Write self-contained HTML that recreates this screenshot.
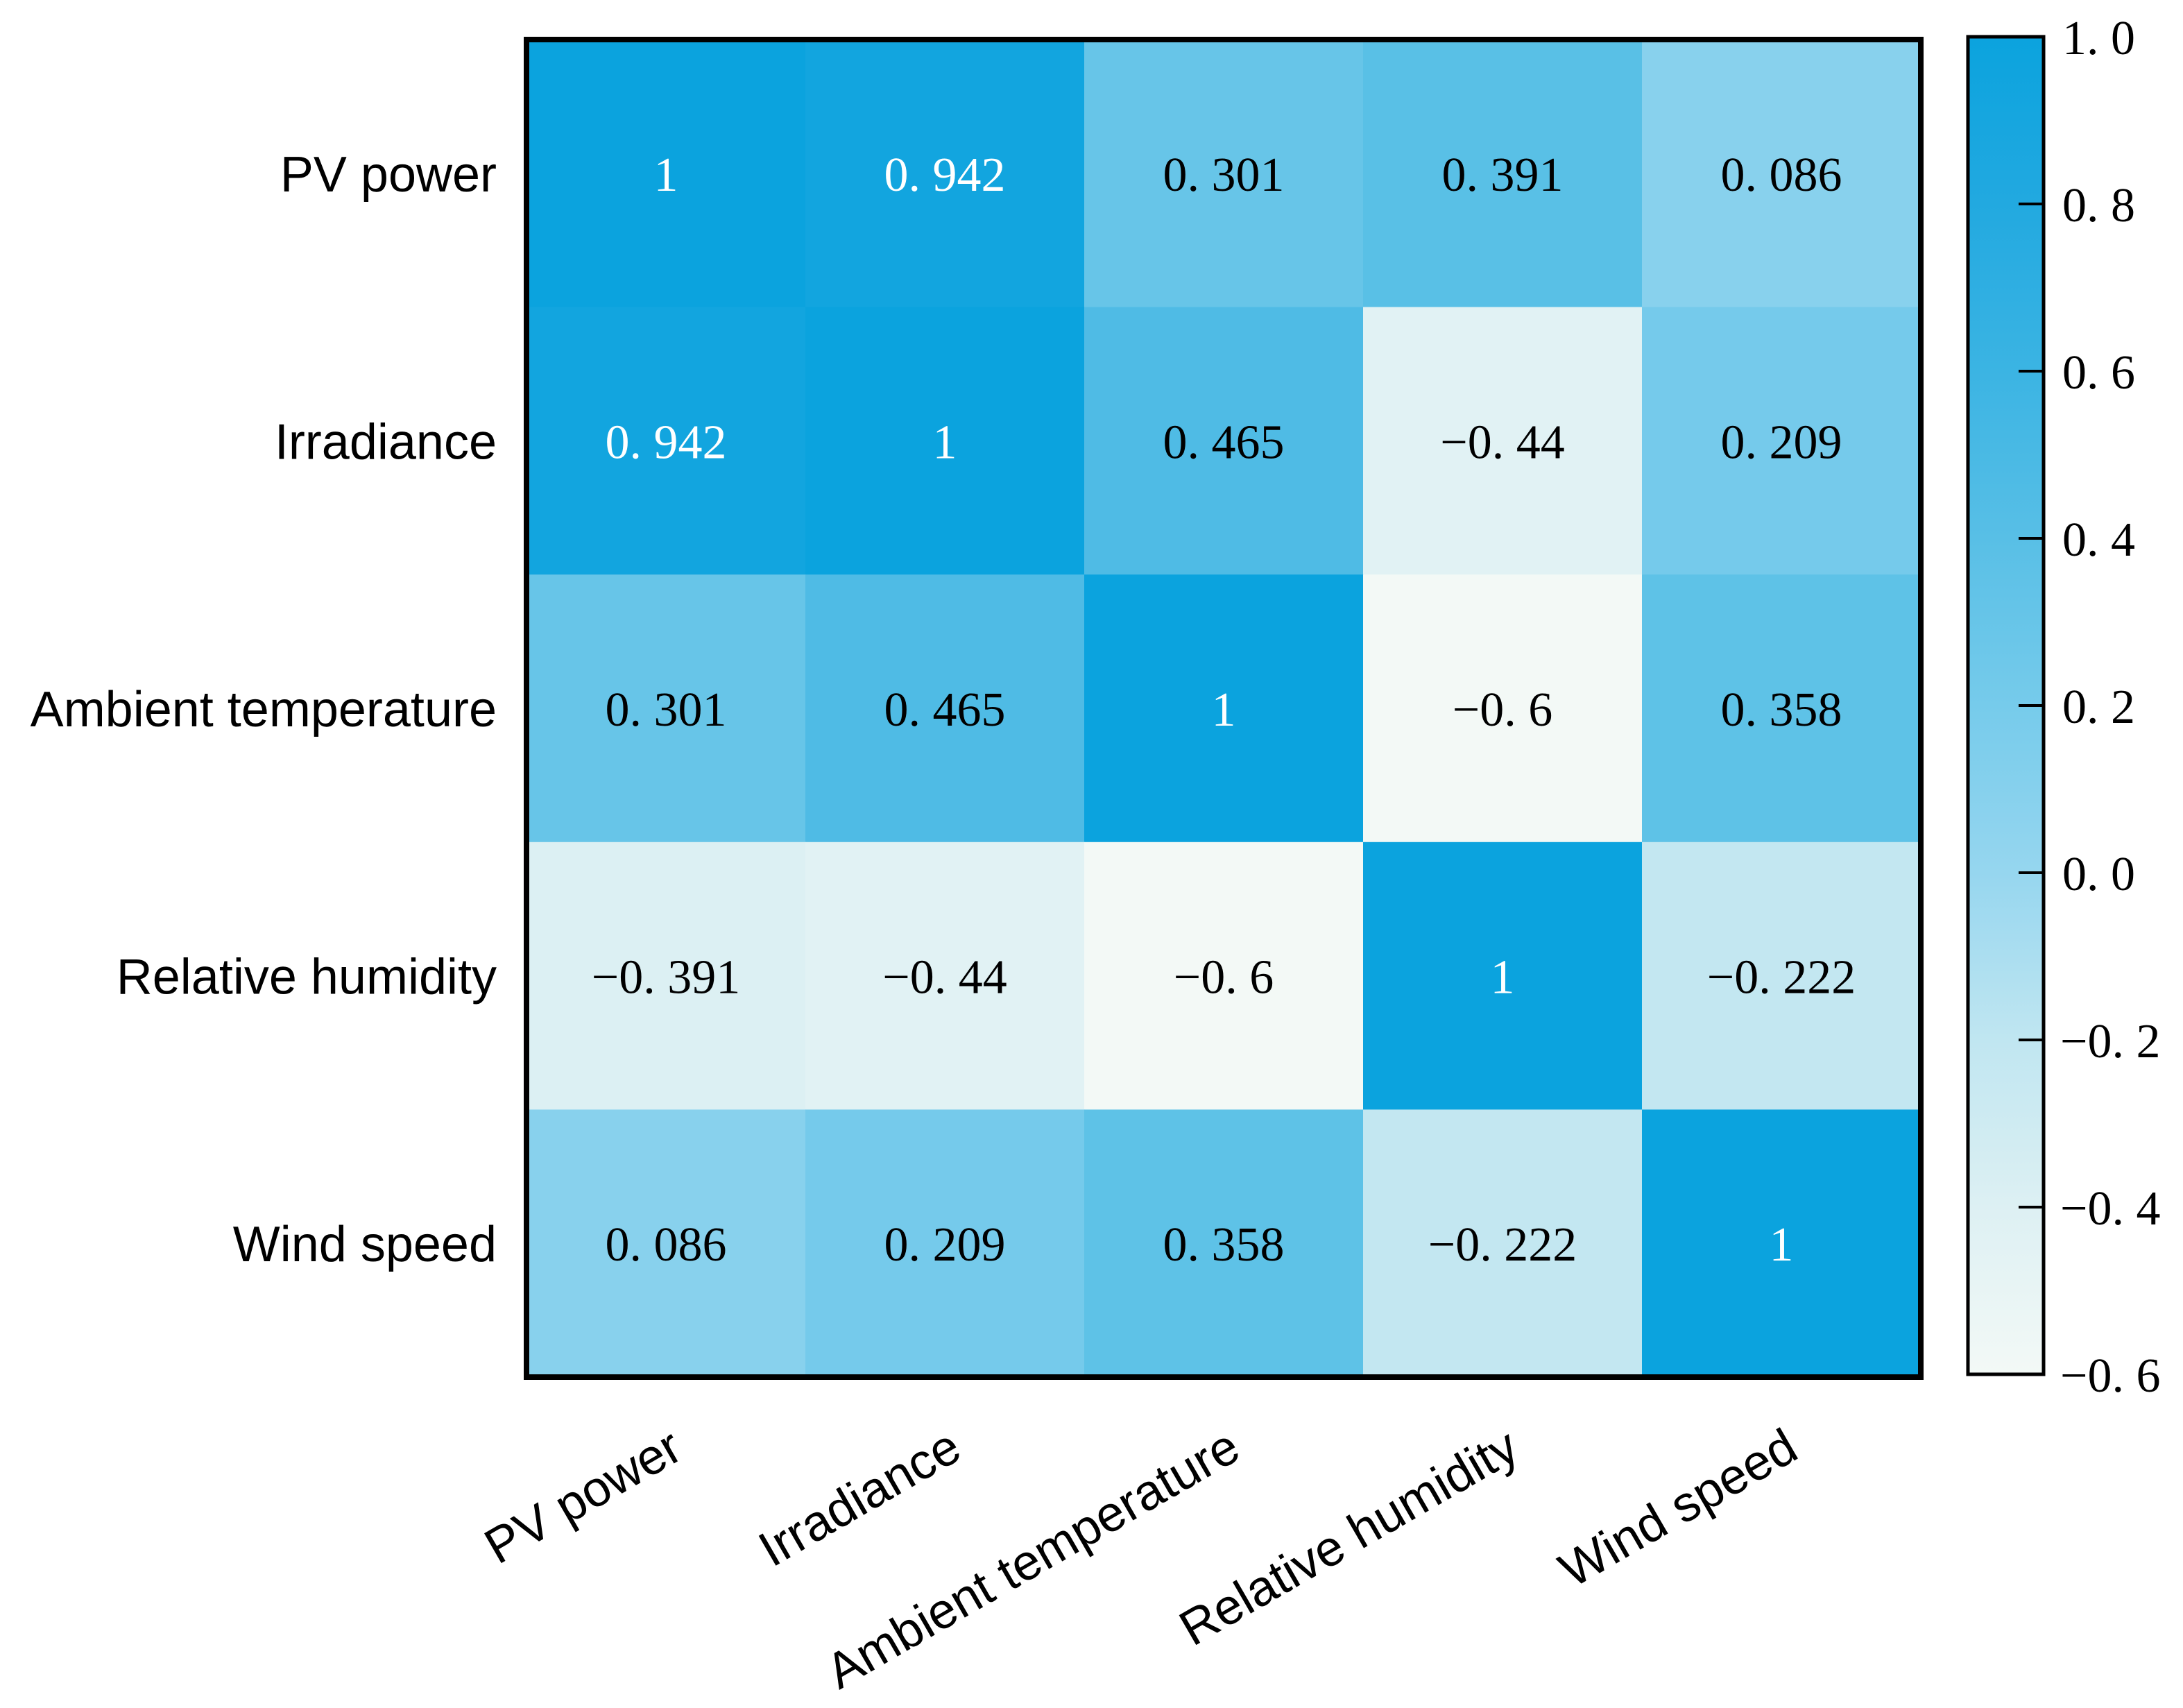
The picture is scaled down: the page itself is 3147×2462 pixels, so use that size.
<!DOCTYPE html>
<html><head><meta charset="utf-8"><style>
html,body{margin:0;padding:0;background:#fff;}
svg{display:block;}
</style></head>
<body>
<svg id="chart" xmlns="http://www.w3.org/2000/svg" width="3147" height="2462" viewBox="0 0 3147 2462">
<rect width="3147" height="2462" fill="#fff"/>
<defs><linearGradient id="cbg" x1="0" y1="1" x2="0" y2="0"></linearGradient></defs>
<g id="cells"></g>
<g id="ylabels"></g>
<g id="xlabels"></g>
<rect x="759" y="57" width="2010" height="1928" fill="none" stroke="#000" stroke-width="8"/>
<g id="cbar"></g>
</svg>
<script>
const labels = ["PV power","Irradiance","Ambient temperature","Relative humidity","Wind speed"];
const row0 = [1, 0.942, 0.301, 0.391, 0.086];
const row1 = [0.942, 1, 0.465, -0.44, 0.209];
const row2 = [0.301, 0.465, 1, -0.6, 0.358];
const row3 = [-0.391, -0.44, -0.6, 1, -0.222];
const row4 = [0.086, 0.209, 0.358, -0.222, 1];
const matrix = [row0,row1,row2,row3,row4];
const cbTicks = [1.0,0.8,0.6,0.4,0.2,0.0,-0.2,-0.4,-0.6];
const vmin = -0.6, vmax = 1.0;

const stopVals = [-0.6,-0.4,-0.2,0,0.2,0.4,0.6,0.8,1.0];
const stopCols = [[243,249,246],[221,240,243],[192,230,241],[150,214,239],[118,203,235],[88,191,230],[59,180,227],[34,169,224],[11,163,222]];
function color(v){
  v=Math.max(vmin,Math.min(vmax,v));
  for(let i=0;i<stopVals.length-1;i++){
    if(v<=stopVals[i+1]){
      const t=(v-stopVals[i])/(stopVals[i+1]-stopVals[i]);
      const a=stopCols[i],b=stopCols[i+1];
      return 'rgb('+a.map((c,k)=>Math.round(c+(b[k]-c)*t)).join(',')+')';
    }
  }
  return 'rgb(11,163,222)';
}
const NS="http://www.w3.org/2000/svg";
const X0=759,Y0=57,W=2010,H=1928,n=labels.length,cw=W/n,ch=H/n;
const xPos=j=>X0+j*cw, yPos=i=>Y0+i*ch;
function fmt(v){ let s=String(Math.abs(v)); s=s.replace('.', '. '); return (v<0?'\u2212':'')+s; }
const cells=document.getElementById('cells');
matrix.forEach((row,i)=>row.forEach((v,j)=>{
  const r=document.createElementNS(NS,'rect');
  r.setAttribute('x',xPos(j));r.setAttribute('y',yPos(i));
  r.setAttribute('width',cw+0.5);r.setAttribute('height',ch+0.5);
  r.setAttribute('fill',color(v));
  
  
  cells.appendChild(r);
  const t=document.createElementNS(NS,'text');
  t.setAttribute('x',xPos(j)+cw/2);t.setAttribute('y',yPos(i)+ch/2+25);
  t.setAttribute('text-anchor','middle');
  t.setAttribute('font-family','"Liberation Serif", serif');
  t.setAttribute('font-size','70');
  t.setAttribute('fill',v>=0.9?'#fff':'#000');
  t.textContent=fmt(v);
  
  
  cells.appendChild(t);
}));
const yl=document.getElementById('ylabels');
labels.forEach((l,i)=>{
  const t=document.createElementNS(NS,'text');
  t.setAttribute('x',716);t.setAttribute('y',yPos(i)+ch/2+26);
  t.setAttribute('text-anchor','end');
  t.setAttribute('font-family','"Liberation Sans", sans-serif');
  t.setAttribute('font-size','72');
  t.textContent=l;
  
  
  yl.appendChild(t);
});
const xl=document.getElementById('xlabels');
labels.forEach((l,j)=>{
  const t=document.createElementNS(NS,'text');
  const ax=xPos(j)+cw/2+28, ay=2100;
  t.setAttribute('transform','translate('+ax+','+ay+') rotate(-30)');
  t.setAttribute('text-anchor','end');
  t.setAttribute('font-family','"Liberation Sans", sans-serif');
  t.setAttribute('font-size','72');
  t.textContent=l;
  
  
  xl.appendChild(t);
});
// colorbar
const CBX=2837,CBW=109,CBT=53,CBB=1981;
const cbY=v=>CBB-(v-vmin)/(vmax-vmin)*(CBB-CBT);
const grad=document.getElementById('cbg');
stopVals.forEach((v,k)=>{
  const s=document.createElementNS(NS,'stop');
  s.setAttribute('offset',((v-vmin)/(vmax-vmin)).toFixed(4));
  s.setAttribute('stop-color','rgb('+stopCols[k].join(',')+')');
  grad.appendChild(s);
});
const cb=document.getElementById('cbar');
const cr=document.createElementNS(NS,'rect');
cr.setAttribute('x',CBX);cr.setAttribute('y',CBT);cr.setAttribute('width',CBW);cr.setAttribute('height',CBB-CBT);
cr.setAttribute('fill','url(#cbg)');cr.setAttribute('stroke','#000');cr.setAttribute('stroke-width','5');


cb.appendChild(cr);
cbTicks.forEach(v=>{
  const y=cbY(v);
  if(v<vmax && v>vmin){
    const ln=document.createElementNS(NS,'line');
    ln.setAttribute('x1',CBX+CBW-36);ln.setAttribute('x2',CBX+CBW);
    ln.setAttribute('y1',y);ln.setAttribute('y2',y);
    ln.setAttribute('stroke','#000');ln.setAttribute('stroke-width','4');
    
    
    cb.appendChild(ln);
  }
  const t=document.createElementNS(NS,'text');
  t.setAttribute('x',v<0?2970:2973);t.setAttribute('y',y+25);
  t.setAttribute('font-family','"Liberation Serif", serif');
  t.setAttribute('font-size','70');
  t.textContent=(v<0?'\u2212':'')+Math.abs(v).toFixed(1).replace('.', '. ');
  
  
  cb.appendChild(t);
});
</script>
</body></html>
